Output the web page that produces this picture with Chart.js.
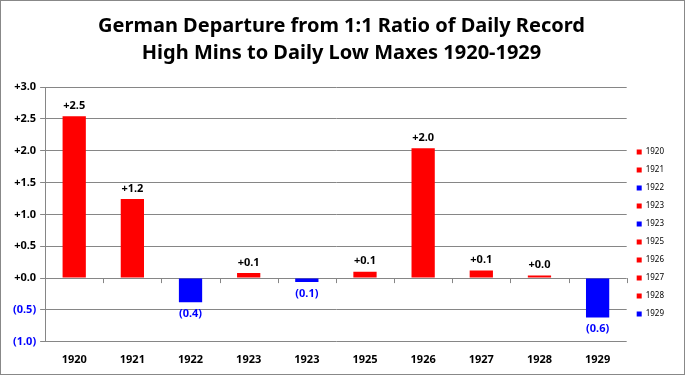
<!DOCTYPE html>
<html>
<head>
<meta charset="utf-8">
<script src="https://cdn.jsdelivr.net/npm/chart.js@4"></script>
<style>
    html, body { margin: 0; padding: 0; background: #fff; }
    #wrap { width: 683px; height: 373px; border: 1px solid #888; position: relative; }
</style>
</head>
<body>
<div id="wrap"><canvas id="chart" width="683" height="373"></canvas></div>
<script>
const years = ["1920", "1921", "1922", "1923", "1923", "1925", "1926", "1927", "1928", "1929"];
const departures = [2.54, 1.24, -0.38, 0.08, -0.06, 0.10, 2.04, 0.12, 0.04, -0.62];
const yTicks = { min: -1.0, max: 3.0, step: 0.5 };

const RED = "#ff0000";
const BLUE = "#0000ff";
const GRID = "#868686";

const barColour = function(v) {
    return v < 0 ? BLUE : RED;
};

const fmt = function(v) {
    if (v < -0.0001) {
        return "(" + Math.abs(v).toFixed(1) + ")";
    }
    return "+" + Math.abs(v).toFixed(1);
};

/* value labels above / below each bar */
const barLabels = {
    id: "barLabels",
    afterDatasetsDraw(chart) {
        const ctx = chart.ctx;
        const meta = chart.getDatasetMeta(0);
        ctx.save();
        ctx.font = "bold 11px 'Noto Sans'";
        ctx.textAlign = "center";
        meta.data.forEach((bar, i) => {
            const v = departures[i];
            if (v < 0) {
                ctx.fillStyle = BLUE;
                ctx.textBaseline = "top";
                ctx.fillText(fmt(v), bar.x, bar.y + 6);
            } else {
                ctx.fillStyle = "#000";
                ctx.textBaseline = "bottom";
                ctx.fillText(fmt(v), bar.x, bar.y - 5);
            }
        });
        ctx.restore();
    }
};

/* little tick marks on the zero line between categories */
const zeroTicks = {
    id: "zeroTicks",
    afterDatasetsDraw(chart) {
        const ctx = chart.ctx;
        const x = chart.scales.x;
        const y0 = chart.scales.y.getPixelForValue(0);
        const half = (x.getPixelForValue(1) - x.getPixelForValue(0)) / 2;
        ctx.save();
        ctx.strokeStyle = GRID;
        ctx.lineWidth = 1;
        ctx.beginPath();
        for (let i = 0; i <= years.length; i++) {
            const px = Math.round(x.getPixelForValue(0) - half + i * half * 2) + 0.5;
            ctx.moveTo(px, y0);
            ctx.lineTo(px, y0 + 5);
        }
        ctx.stroke();
        ctx.restore();
    }
};

new Chart(document.getElementById("chart").getContext("2d"), {
    type: "bar",
    data: {
        labels: years,
        datasets: [{
            data: departures,
            backgroundColor: departures.map(barColour),
            barPercentage: 0.4,
            categoryPercentage: 1.0
        }]
    },
    options: {
        responsive: false,
        animation: false,
        layout: { padding: { left: 8, right: 10, top: 0, bottom: 5 } },
        plugins: {
            title: {
                display: true,
                text: ["German Departure from 1:1 Ratio of Daily Record", "High Mins to Daily Low Maxes 1920-1929"],
                color: "#000",
                font: { family: "'Noto Sans'", size: 20, weight: "bold", lineHeight: 1.35 },
                padding: { top: 12, bottom: 20 }
            },
            legend: {
                display: true,
                position: "right",
                title: {
                    display: true,
                    text: " ",
                    font: { size: 1 },
                    padding: { top: 95, bottom: 0 }
                },
                labels: {
                    boxWidth: 5,
                    boxHeight: 5,
                    padding: 10,
                    color: "#000",
                    font: { family: "'Noto Sans'", size: 8 },
                    generateLabels: function() {
                        return years.map((y, i) => {
                            return {
                                text: y,
                                fillStyle: barColour(departures[i]),
                                strokeStyle: barColour(departures[i]),
                                fontColor: "#000",
                                lineWidth: 0,
                                index: i
                            };
                        });
                    }
                }
            },
            tooltip: { enabled: false }
        },
        scales: {
            x: {
                grid: { display: false },
                border: { display: false },
                ticks: {
                    color: "#000",
                    font: { family: "'Noto Sans'", size: 11, weight: "bold" },
                    padding: 3
                }
            },
            y: {
                min: yTicks.min,
                max: yTicks.max,
                grid: { color: GRID, tickLength: 5 },
                border: { display: true, color: GRID },
                ticks: {
                    stepSize: yTicks.step,
                    padding: 4,
                    font: { family: "'Noto Sans'", size: 11, weight: "bold" },
                    color: (c) => c.tick.value < 0 ? BLUE : "#000",
                    callback: (v) => fmt(v)
                }
            }
        }
    },
    plugins: [barLabels, zeroTicks]
});
</script>
</body>
</html>
